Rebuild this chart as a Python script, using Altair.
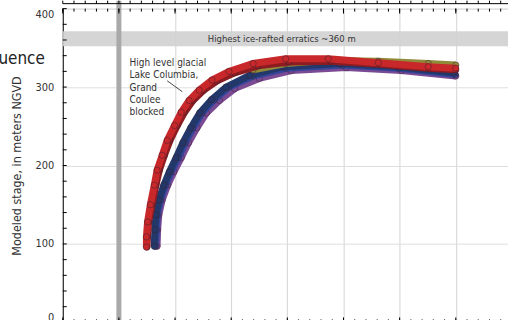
import altair as alt
import pandas as pd

FONT = "Liberation Sans Narrow, DejaVu Sans Condensed, Liberation Sans, sans-serif"

W, H = 447, 315
X_MAX = 7.93

# ---- data (x in grid units, y in metres NGVD) ----
red_x = [1.49, 1.49, 1.51, 1.56, 1.63, 1.68, 1.77, 1.86, 1.99, 2.11, 2.25, 2.43, 2.66, 2.96, 3.39, 3.97, 4.73, 5.62, 6.51, 7.00]
red_y = [96, 109, 128, 150, 175, 194, 213, 232, 251, 268, 283, 296, 309, 320, 330, 336, 336, 331, 326, 324]
darkred_x = [1.50, 1.51, 1.53, 1.59, 1.66, 1.72, 1.81, 1.91, 2.04, 2.17, 2.32, 2.51, 2.75, 3.06, 3.48, 4.03, 4.78, 5.64, 6.52, 7.00]
darkred_y = [96, 109, 128, 150, 175, 194, 213, 232, 251, 268, 283, 296, 308, 318, 327, 332, 333, 329, 324, 322]
olive_x = [3.39, 3.97, 4.73, 5.62, 6.51, 7.00]
olive_y = [322, 330, 334, 333, 330, 328]
navy_x = [1.63, 1.64, 1.66, 1.71, 1.80, 1.90, 2.02, 2.14, 2.28, 2.44, 2.65, 2.91, 3.33, 3.92, 4.94, 5.96, 6.98]
navy_y = [97, 118, 137, 156, 175, 192, 210, 229, 248, 267, 284, 300, 315, 326, 330, 326, 318]
blue_x = [1.65, 1.67, 1.68, 1.74, 1.83, 1.93, 2.06, 2.18, 2.32, 2.48, 2.70, 2.96, 3.39, 3.97, 4.98, 5.99, 6.99]
blue_y = [97, 118, 137, 156, 175, 192, 210, 229, 248, 267, 284, 300, 314, 324, 328, 324, 316]
purple_x = [1.68, 1.69, 1.71, 1.77, 1.87, 1.98, 2.11, 2.24, 2.39, 2.56, 2.79, 3.06, 3.50, 4.07, 5.05, 6.03, 7.00]
purple_y = [97, 118, 137, 156, 175, 192, 210, 229, 248, 267, 283, 298, 311, 321, 325, 321, 314]

series = [
    ("purple", purple_x, purple_y, "#7a4a93"),
    ("blue", blue_x, blue_y, "#34459a"),
    ("navy", navy_x, navy_y, "#23386a"),
    ("olive", olive_x, olive_y, "#8f8b3a"),
    ("darkred", darkred_x, darkred_y, "#8c1c22"),
    ("red", red_x, red_y, "#c8282a"),
]

band_lo = [352]
band_hi = [371]
band_label = ["Highest ice-rafted erratics ~360 m"]
band_label_x = [3.9]
band_label_y = [361]

event_x = [1.0]

note_lines = ["High level glacial", "Lake Columbia,", "Grand", "Coulee", "blocked"]
note_x = [1.19]
note_y = [337]
leader_x = [1.86, 2.13]
leader_y = [308, 294]

y_values = [0, 100, 200, 300, 400]
y_minor = list(range(0, 401, 20))
x_grid = [2, 3, 4, 5, 6, 7]
x_minor = [round(i * 0.2, 1) for i in range(0, 40)]
x_major = [0, 1, 2, 3, 4, 5, 6, 7]

xs = alt.Scale(domain=[0, X_MAX], nice=False, zero=False)
ys = alt.Scale(domain=[0, 400], nice=False)

XAXIS = alt.Axis(values=x_grid, grid=True, labels=False, ticks=False, domain=False,
                 title=None, gridColor="#d4d4d4")
YTITLE = "Modeled stage, in meters NGVD"
YAXIS = alt.Axis(values=y_values, grid=True, gridColor="#dedede", ticks=False,
                 domain=True, domainColor="#000000", labelFlush=True,
                 labelPadding=9, labelFont=FONT, labelFontSize=11,
                 labelColor="#333333", title=YTITLE,
                 titleFont=FONT, titleFontSize=12.5, titleFontWeight="normal",
                 titleColor="#333333", titlePadding=12)


def X(f):
    return alt.X(f, scale=xs, axis=XAXIS, title=None)


def Y(f):
    return alt.Y(f, scale=ys, axis=YAXIS, title=YTITLE)


# ---- axis-carrying invisible layer ----
axis_df = pd.DataFrame({"x": [0, X_MAX], "y": [0, 400]})
axes = alt.Chart(axis_df).mark_point(opacity=0).encode(x=X("x:Q"), y=Y("y:Q"))

band = alt.Chart(pd.DataFrame({"lo": band_lo, "hi": band_hi})).mark_rect(color="#d0d0d0", opacity=0.9).encode(
    y=Y("lo:Q"), y2="hi:Q", x=alt.value(0), x2=alt.value(W))

band_text = alt.Chart(pd.DataFrame({"t": band_label, "x": band_label_x, "y": band_label_y})).mark_text(
    font=FONT, fontSize=9.5, color="#333333", align="center", baseline="middle").encode(
    x=X("x:Q"), y=Y("y:Q"), text="t:N")

event = alt.Chart(pd.DataFrame({"x": event_x})).mark_rule(color="#a9a9a9", strokeWidth=5).encode(
    x=X("x:Q"), y=alt.value(-8), y2=alt.value(H))

# inward ticks
yt = alt.Chart(pd.DataFrame({"v": y_minor})).mark_rule(color="#000000", strokeWidth=1).encode(
    y=Y("v:Q"), x=alt.value(0), x2=alt.value(4))
xt_top = alt.Chart(pd.DataFrame({"v": x_minor})).mark_rule(color="#000000", strokeWidth=1).encode(
    x=X("v:Q"), y=alt.value(0), y2=alt.value(3))
xt_top_major = alt.Chart(pd.DataFrame({"v": x_major})).mark_rule(color="#000000", strokeWidth=1).encode(
    x=X("v:Q"), y=alt.value(0), y2=alt.value(5))
xt_bot = alt.Chart(pd.DataFrame({"v": x_minor})).mark_rule(color="#000000", strokeWidth=1).encode(
    x=X("v:Q"), y=alt.value(H - 3), y2=alt.value(H))
xt_bot_major = alt.Chart(pd.DataFrame({"v": x_major})).mark_rule(color="#000000", strokeWidth=1).encode(
    x=X("v:Q"), y=alt.value(H - 5), y2=alt.value(H))

# remnant of the panel above
upper_line = alt.Chart(pd.DataFrame({"v": [0]})).mark_rule(color="#000000", strokeWidth=1).encode(
    x=alt.value(0), x2=alt.value(W + 5), y=alt.value(-5))
upper_ticks = alt.Chart(pd.DataFrame({"v": x_minor})).mark_rule(color="#000000", strokeWidth=1).encode(
    x=X("v:Q"), y=alt.value(-5), y2=alt.value(-8))

layers = [axes, band, band_text, event, yt, xt_top, xt_top_major, xt_bot, xt_bot_major, upper_line, upper_ticks]

for name, sx, sy, col in series:
    df = pd.DataFrame({"x": sx, "y": sy, "i": list(range(len(sx)))})
    line = alt.Chart(df).mark_line(color=col, strokeWidth=7).encode(
        x=X("x:Q"), y=Y("y:Q"), order="i:Q")
    pts = alt.Chart(df).mark_point(filled=True, color=col, size=40, opacity=1,
                                   stroke="#3a2030", strokeWidth=0.5).encode(
        x=X("x:Q"), y=Y("y:Q"))
    layers += [line, pts]

note = alt.Chart(pd.DataFrame({"x": note_x, "y": note_y})).mark_text(
    text=note_lines, font=FONT, fontSize=10, lineHeight=12.3, color="#333333",
    align="left", baseline="top").encode(x=X("x:Q"), y=Y("y:Q"))
leader = alt.Chart(pd.DataFrame({"x": [leader_x[0]], "x2": [leader_x[1]],
                                 "y": [leader_y[0]], "y2": [leader_y[1]]})).mark_rule(
    color="#444444", strokeWidth=1).encode(x=X("x:Q"), x2="x2:Q", y=Y("y:Q"), y2="y2:Q")

side_title = alt.Chart(pd.DataFrame({"v": [0]})).mark_text(
    text="Sequence", font=FONT, fontSize=17, color="#222222", align="right", baseline="alphabetic").encode(
    x=alt.value(-18), y=alt.value(56))

layers += [note, leader, side_title]

chart = alt.layer(*layers).properties(
    width=W, height=H,
    autosize=alt.AutoSizeParams(type="none"),
    padding={"left": 63, "top": 8, "right": 0, "bottom": 10},
).configure_view(stroke="#000000", strokeWidth=1).configure(background="white")

chart.save("out.html", embed_options={"renderer": "svg", "actions": False})
